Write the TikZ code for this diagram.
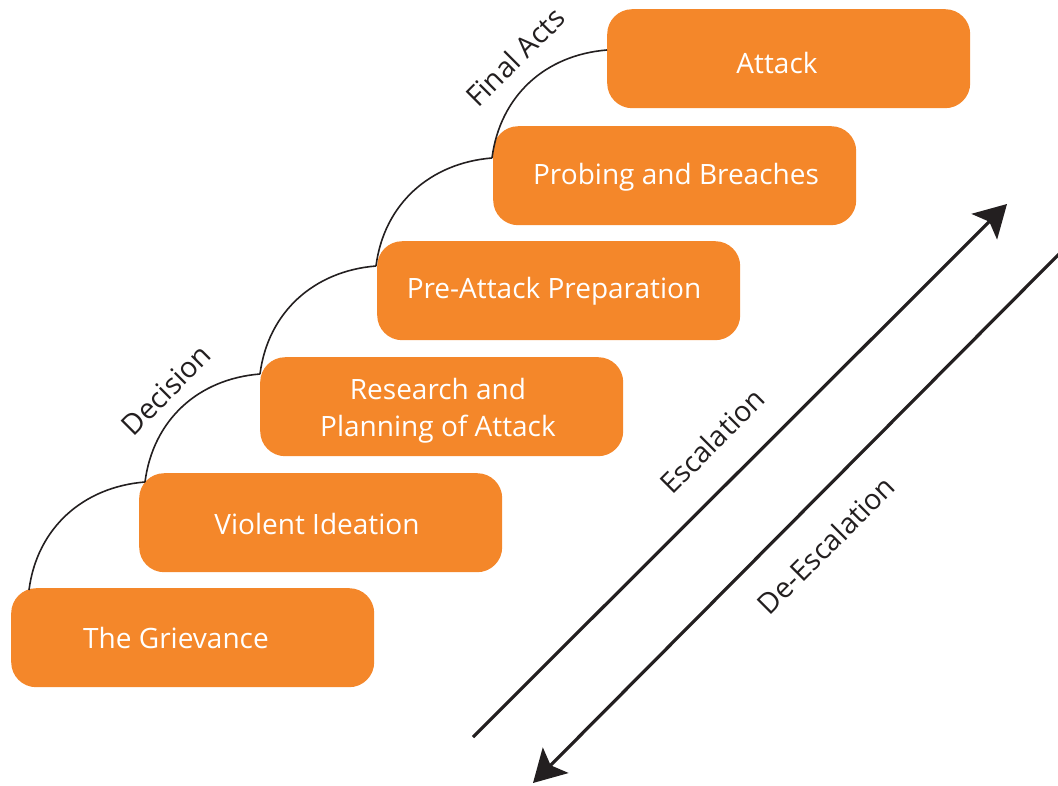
\documentclass[tikz,border=0pt]{standalone}
\usepackage{fontspec}
\setmainfont{Open Sans}
\usetikzlibrary{arrows.meta}
\definecolor{boxorange}{HTML}{F4872A}
\definecolor{inkdark}{HTML}{231F20}
\begin{document}
\begin{tikzpicture}[x=1pt,y=-1pt,
  stepbox/.style={draw=none,fill=boxorange,rounded corners=25pt,minimum width=363pt,minimum height=99pt,inner sep=0pt,anchor=north west},
  boxtext/.style={text=white,font=\fontsize{28}{37}\selectfont,align=center,inner sep=0pt},
  sidelabel/.style={text=inkdark,font=\fontsize{28.5}{32}\selectfont,rotate=45,inner sep=0pt},
  stair/.style={draw=inkdark,line width=1.6pt},
  bigarrow/.style={draw=inkdark,line width=3.2pt,-{Stealth[length=32pt,width=36pt,inset=7pt]}}]
\useasboundingbox (0,0) rectangle (1058,785);
\clip (0,0) rectangle (1058,785);
% boxes
\node[stepbox] (b1) at (11,588) {};
\node[stepbox] (b2) at (139,473) {};
\node[stepbox] (b3) at (260,357) {};
\node[stepbox] (b4) at (377,241) {};
\node[stepbox] (b5) at (493,126) {};
\node[stepbox] (b6) at (607,9) {};
% box texts
\node[boxtext] (t1) at (176,638) {The Grievance};
\node[boxtext] (t2) at (317,524) {Violent Ideation};
\node[boxtext] (t3) at (438,411) {Research and\\Planning of Attack};
\node[boxtext] (t4) at (554,291) {Pre-Attack Preparation};
\node[boxtext] (t5) at (676,177) {Probing and Breaches};
\node[boxtext] (t6) at (777,63) {Attack};
% stair arcs
\coordinate (a0) at (29,590);
\coordinate (a1) at (145,482);
\coordinate (a2) at (260,374);
\coordinate (a3) at (376,266);
\coordinate (a4) at (492,158);
\coordinate (a5) at (607,50);
\draw[stair] (a0) .. controls +(8,-62) and +(-62,5) .. (a1);
\draw[stair] (a1) .. controls +(8,-62) and +(-62,5) .. (a2);
\draw[stair] (a2) .. controls +(8,-62) and +(-62,5) .. (a3);
\draw[stair] (a3) .. controls +(8,-62) and +(-62,5) .. (a4);
\draw[stair] (a4) .. controls +(8,-62) and +(-62,5) .. (a5);
% labels
\node[sidelabel] (l1) at (515,57) {Final Acts};
\node[sidelabel] (l2) at (166,390) {Decision};
\node[sidelabel] (l3) at (712,441) {Escalation};
\node[sidelabel] (l4) at (826,545) {De-Escalation};
% arrows
\coordinate (e0) at (473,737);
\coordinate (e1) at (1007,204);
\coordinate (d0) at (1064,249);
\coordinate (d1) at (533,783);
\draw[bigarrow] (e0) -- (e1);
\draw[bigarrow] (d0) -- (d1);
\end{tikzpicture}
\end{document}
